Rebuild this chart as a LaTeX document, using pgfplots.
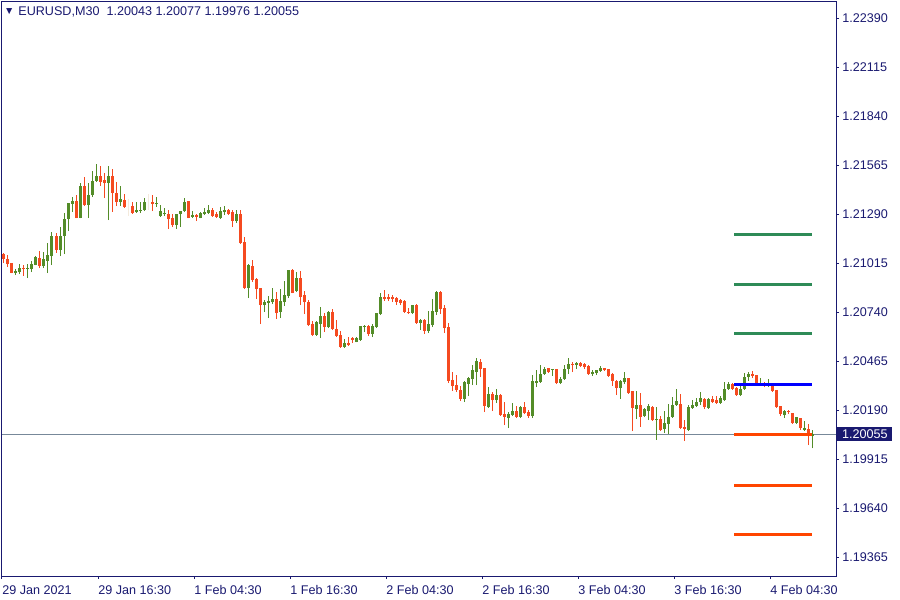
\documentclass[border=0pt]{standalone}
\usepackage{pgfplots}
\pgfplotsset{compat=1.18}
\usepackage{pgfplotstable}
\usepackage{fontspec}
\setmainfont{Liberation Sans}

\definecolor{navy}{RGB}{25,25,112}
\definecolor{upc}{RGB}{83,140,40}
\definecolor{dnc}{RGB}{245,74,32}
\definecolor{bidc}{RGB}{119,136,153}
\definecolor{lvgreen}{RGB}{46,139,87}
\definecolor{lvorange}{RGB}{255,69,0}
\definecolor{dojic}{RGB}{244,234,220}

% EURUSD M30 candles: bar index, open, high, low, close
\pgfplotstableread{
i o h l c
3 1.20959 1.20982 1.20948 1.20971
4 1.20965 1.21010 1.20954 1.20987
6 1.20982 1.21010 1.20931 1.20987
7 1.20982 1.21027 1.20965 1.21010
8 1.21004 1.21055 1.21002 1.21049
10 1.20999 1.21077 1.20987 1.21038
11 1.21027 1.21128 1.20959 1.21060
12 1.21055 1.21189 1.21004 1.21167
14 1.21089 1.21217 1.21055 1.21167
15 1.21167 1.21296 1.21066 1.21262
16 1.21262 1.21354 1.21195 1.21352
17 1.21347 1.21386 1.21302 1.21363
19 1.21268 1.21464 1.21266 1.21448
21 1.21341 1.21464 1.21268 1.21397
22 1.21397 1.21532 1.21386 1.21476
23 1.21476 1.21571 1.21470 1.21504
26 1.21464 1.21560 1.21257 1.21504
29 1.21358 1.21448 1.21335 1.21375
33 1.21302 1.21358 1.21299 1.21313
34 1.21307 1.21358 1.21296 1.21312
35 1.21313 1.21380 1.21307 1.21358
38 1.21347 1.21386 1.21330 1.21352
39 1.21279 1.21341 1.21274 1.21307
40 1.21290 1.21324 1.21279 1.21296
43 1.21229 1.21292 1.21206 1.21290
44 1.21290 1.21309 1.21217 1.21307
45 1.21307 1.21380 1.21302 1.21358
47 1.21274 1.21307 1.21268 1.21285
49 1.21268 1.21302 1.21266 1.21296
50 1.21290 1.21324 1.21285 1.21302
51 1.21296 1.21341 1.21290 1.21313
54 1.21268 1.21330 1.21262 1.21307
55 1.21302 1.21335 1.21285 1.21313
58 1.21251 1.21313 1.21240 1.21290
61 1.20875 1.21010 1.20819 1.21004
65 1.20780 1.20808 1.20741 1.20797
66 1.20791 1.20830 1.20707 1.20802
67 1.20797 1.20875 1.20785 1.20813
69 1.20741 1.20870 1.20707 1.20802
70 1.20797 1.20915 1.20774 1.20836
71 1.20830 1.20979 1.20819 1.20976
73 1.20858 1.20965 1.20853 1.20931
78 1.20612 1.20688 1.20609 1.20685
79 1.20673 1.20769 1.20595 1.20718
81 1.20656 1.20744 1.20651 1.20741
85 1.20544 1.20589 1.20539 1.20567
88 1.20572 1.20598 1.20570 1.20595
89 1.20584 1.20664 1.20581 1.20662
90 1.20656 1.20668 1.20628 1.20662
92 1.20617 1.20673 1.20600 1.20662
93 1.20656 1.20738 1.20651 1.20735
94 1.20729 1.20847 1.20724 1.20825
102 1.20735 1.20783 1.20729 1.20780
104 1.20679 1.20701 1.20640 1.20696
106 1.20634 1.20746 1.20623 1.20673
107 1.20668 1.20813 1.20656 1.20746
108 1.20741 1.20858 1.20724 1.20853
115 1.20253 1.20354 1.20236 1.20348
116 1.20337 1.20376 1.20269 1.20370
117 1.20365 1.20443 1.20331 1.20415
118 1.20404 1.20483 1.20331 1.20466
121 1.20208 1.20320 1.20205 1.20281
123 1.20247 1.20309 1.20230 1.20275
126 1.20146 1.20180 1.20090 1.20168
127 1.20163 1.20230 1.20157 1.20185
129 1.20152 1.20213 1.20146 1.20208
132 1.20157 1.20387 1.20146 1.20354
133 1.20342 1.20415 1.20320 1.20354
134 1.20348 1.20443 1.20345 1.20393
135 1.20393 1.20432 1.20390 1.20421
137 1.20415 1.20424 1.20382 1.20421
139 1.20342 1.20376 1.20337 1.20365
140 1.20365 1.20443 1.20362 1.20421
141 1.20421 1.20483 1.20393 1.20449
143 1.20443 1.20460 1.20421 1.20454
147 1.20393 1.20415 1.20382 1.20404
148 1.20398 1.20418 1.20387 1.20415
149 1.20410 1.20438 1.20407 1.20426
154 1.20314 1.20359 1.20253 1.20354
155 1.20348 1.20404 1.20337 1.20370
158 1.20196 1.20297 1.20140 1.20219
160 1.20157 1.20202 1.20150 1.20196
161 1.20185 1.20225 1.20135 1.20213
163 1.20135 1.20208 1.20023 1.20140
165 1.20084 1.20185 1.20062 1.20118
166 1.20112 1.20225 1.20056 1.20152
167 1.20152 1.20264 1.20149 1.20219
168 1.20219 1.20309 1.20216 1.20241
171 1.20079 1.20219 1.20076 1.20208
172 1.20202 1.20247 1.20199 1.20219
173 1.20213 1.20258 1.20208 1.20236
174 1.20236 1.20292 1.20219 1.20258
176 1.20202 1.20256 1.20199 1.20253
179 1.20230 1.20269 1.20225 1.20258
180 1.20247 1.20348 1.20244 1.20309
181 1.20309 1.20348 1.20306 1.20337
184 1.20275 1.20326 1.20269 1.20309
185 1.20309 1.20398 1.20306 1.20376
186 1.20376 1.20404 1.20354 1.20393
189 1.20331 1.20370 1.20326 1.20342
191 1.20326 1.20365 1.20320 1.20342
195 1.20163 1.20191 1.20146 1.20185
198 1.20118 1.20154 1.20112 1.20152
200 1.20079 1.20129 1.20073 1.20090
202 1.20043 1.20077 1.19976 1.20055
}\candlesup

\pgfplotstableread{
i o h l c
0 1.21066 1.21072 1.21015 1.21038
1 1.21038 1.21060 1.20993 1.21010
2 1.21015 1.21018 1.20957 1.20959
5 1.20987 1.21004 1.20943 1.20982
9 1.21044 1.21083 1.20987 1.20999
13 1.21167 1.21184 1.21072 1.21089
18 1.21363 1.21397 1.21266 1.21268
20 1.21448 1.21498 1.21335 1.21341
24 1.21504 1.21560 1.21448 1.21470
25 1.21481 1.21520 1.21380 1.21464
27 1.21504 1.21543 1.21302 1.21408
28 1.21408 1.21470 1.21335 1.21358
30 1.21369 1.21403 1.21327 1.21330
32 1.21335 1.21358 1.21293 1.21296
37 1.21358 1.21397 1.21307 1.21347
41 1.21290 1.21313 1.21206 1.21262
42 1.21268 1.21290 1.21217 1.21229
46 1.21363 1.21365 1.21266 1.21268
48 1.21285 1.21290 1.21251 1.21274
52 1.21313 1.21324 1.21274 1.21279
53 1.21290 1.21302 1.21271 1.21274
56 1.21313 1.21316 1.21285 1.21290
57 1.21302 1.21313 1.21217 1.21251
59 1.21290 1.21313 1.21125 1.21128
60 1.21133 1.21161 1.20870 1.20875
62 1.20999 1.21032 1.20909 1.20920
63 1.20926 1.20931 1.20813 1.20870
64 1.20875 1.20878 1.20673 1.20780
68 1.20813 1.20853 1.20701 1.20735
72 1.20976 1.20982 1.20845 1.20847
74 1.20931 1.20971 1.20780 1.20825
75 1.20836 1.20858 1.20729 1.20797
76 1.20797 1.20808 1.20662 1.20668
77 1.20673 1.20690 1.20606 1.20612
80 1.20718 1.20735 1.20628 1.20656
82 1.20741 1.20757 1.20640 1.20645
83 1.20645 1.20696 1.20600 1.20606
84 1.20612 1.20634 1.20541 1.20544
86 1.20567 1.20600 1.20553 1.20556
87 1.20595 1.20600 1.20567 1.20584
91 1.20662 1.20668 1.20606 1.20617
95 1.20825 1.20864 1.20802 1.20813
96 1.20825 1.20842 1.20802 1.20813
97 1.20825 1.20836 1.20797 1.20813
98 1.20819 1.20825 1.20780 1.20797
99 1.20808 1.20813 1.20780 1.20791
100 1.20802 1.20808 1.20735 1.20741
101 1.20741 1.20763 1.20729 1.20735
103 1.20780 1.20785 1.20676 1.20679
105 1.20696 1.20699 1.20617 1.20634
109 1.20853 1.20856 1.20729 1.20757
110 1.20763 1.20780 1.20623 1.20651
111 1.20656 1.20679 1.20342 1.20354
112 1.20359 1.20404 1.20297 1.20326
113 1.20331 1.20387 1.20292 1.20303
114 1.20303 1.20326 1.20241 1.20253
119 1.20460 1.20477 1.20376 1.20421
120 1.20426 1.20429 1.20180 1.20213
122 1.20281 1.20292 1.20185 1.20247
124 1.20275 1.20281 1.20160 1.20163
125 1.20168 1.20236 1.20107 1.20152
128 1.20185 1.20213 1.20146 1.20152
130 1.20208 1.20236 1.20168 1.20174
131 1.20180 1.20191 1.20146 1.20157
136 1.20426 1.20429 1.20398 1.20404
138 1.20421 1.20424 1.20337 1.20342
142 1.20449 1.20460 1.20404 1.20443
144 1.20454 1.20460 1.20432 1.20438
145 1.20449 1.20454 1.20421 1.20432
146 1.20438 1.20441 1.20390 1.20393
150 1.20426 1.20429 1.20410 1.20415
151 1.20421 1.20424 1.20379 1.20382
152 1.20393 1.20398 1.20326 1.20354
153 1.20354 1.20359 1.20275 1.20314
156 1.20370 1.20373 1.20283 1.20286
157 1.20297 1.20300 1.20073 1.20202
159 1.20219 1.20286 1.20096 1.20152
162 1.20208 1.20211 1.20132 1.20135
164 1.20140 1.20157 1.20073 1.20079
169 1.20225 1.20281 1.20084 1.20090
170 1.20096 1.20135 1.20017 1.20084
175 1.20253 1.20258 1.20196 1.20208
177 1.20253 1.20269 1.20233 1.20236
178 1.20247 1.20269 1.20227 1.20230
182 1.20337 1.20342 1.20306 1.20309
183 1.20314 1.20320 1.20272 1.20275
187 1.20393 1.20410 1.20370 1.20382
188 1.20387 1.20390 1.20326 1.20331
190 1.20342 1.20348 1.20320 1.20331
192 1.20337 1.20340 1.20292 1.20297
193 1.20303 1.20306 1.20205 1.20208
194 1.20213 1.20216 1.20157 1.20168
196 1.20185 1.20191 1.20168 1.20180
197 1.20174 1.20177 1.20115 1.20118
199 1.20146 1.20149 1.20079 1.20090
201 1.20084 1.20112 1.19994 1.20045
}\candlesdn

\pgfplotstableread{
i o h l c
31 1.21330 1.21375 1.21279 1.21330
36 1.21358 1.21403 1.21313 1.21358
}\candlesdoji

\begin{document}
\begin{tikzpicture}
\path[use as bounding box] (0,0) rectangle (450pt,300pt);
\begin{axis}[
  at={(1pt,12pt)}, anchor=south west,
  scale only axis, width=417pt, height=287pt,
  xmin=-0.5, xmax=208, ymin=1.19260, ymax=1.22480,
  clip=false,
  axis line style={navy, line width=0.5pt},
  tick style={navy, line width=0.5pt},
  tick align=outside,
  major tick length=1.5pt,
  xtick pos=bottom, ytick pos=right, yticklabel pos=right,
  xtick={-0.5,23.5,47.5,71.5,95.5,119.5,143.5,167.5,191.5},
  xticklabels={29 Jan 2021,29 Jan 16:30,1 Feb 04:30,1 Feb 16:30,2 Feb 04:30,2 Feb 16:30,3 Feb 04:30,3 Feb 16:30,4 Feb 04:30},
  ytick={1.19365,1.19640,1.19915,1.20190,1.20465,1.20740,1.21015,1.21290,1.21565,1.21840,1.22115,1.22390},
  yticklabels={1.19365,1.19640,1.19915,1.20190,1.20465,1.20740,1.21015,1.21290,1.21565,1.21840,1.22115,1.22390},
  xticklabel style={anchor=north west, inner sep=0pt, font=\fontsize{6.3}{7}\selectfont, text=navy, yshift=-3pt},
  yticklabel style={anchor=west, inner sep=0pt, font=\fontsize{6.3}{7}\selectfont, text=navy, xshift=1.5pt},
]
% bid line
\addplot[bidc, line width=0.5pt, forget plot] coordinates {(-0.5,1.20055) (208,1.20055)};

% candles: wick from low to high, body from open to close
\addplot[upc, line width=0.5pt, -, forget plot, quiver={u=0, v=\thisrow{h}-\thisrow{l}}] table[x=i, y=l] {\candlesup};
\addplot[upc, line width=1.5pt, -, forget plot, quiver={u=0, v=\thisrow{c}-\thisrow{o}}] table[x=i, y=o] {\candlesup};
\addplot[dnc, line width=0.5pt, -, forget plot, quiver={u=0, v=\thisrow{h}-\thisrow{l}}] table[x=i, y=l] {\candlesdn};
\addplot[dnc, line width=1.5pt, -, forget plot, quiver={u=0, v=\thisrow{o}-\thisrow{c}}] table[x=i, y=c] {\candlesdn};
\addplot[dojic, line width=0.5pt, -, forget plot, quiver={u=0, v=\thisrow{h}-\thisrow{l}}] table[x=i, y=l] {\candlesdoji};

% horizontal levels
\addplot[lvgreen, line width=1.5pt, forget plot] coordinates {(182.6,1.21173) (202.1,1.21173)};
\addplot[lvgreen, line width=1.5pt, forget plot] coordinates {(182.6,1.20898) (202.1,1.20898)};
\addplot[lvgreen, line width=1.5pt, forget plot] coordinates {(182.6,1.20620) (202.1,1.20620)};
\addplot[blue, line width=1.5pt, forget plot] coordinates {(182.6,1.20337) (202.1,1.20337)};
\addplot[lvorange, line width=1.5pt, forget plot] coordinates {(182.6,1.20055) (202.1,1.20055)};
\addplot[lvorange, line width=1.5pt, forget plot] coordinates {(182.6,1.19770) (202.1,1.19770)};
\addplot[lvorange, line width=1.5pt, forget plot] coordinates {(182.6,1.19495) (202.1,1.19495)};

% header and price box
\node[anchor=center, inner sep=0pt, text=navy, font=\fontsize{5.2}{5.2}\selectfont] at (rel axis cs:0,1) [xshift=3.6pt, yshift=-5pt] {▼};
\node[anchor=west, inner sep=0pt, text=navy, font=\fontsize{6.3}{7}\selectfont] at (rel axis cs:0,1) [xshift=8pt, yshift=-5pt] {EURUSD,M30\ \ 1.20043 1.20077 1.19976 1.20055};
\node[anchor=west, fill=navy, text=white, inner sep=0pt, minimum width=27.5pt, minimum height=7pt, font=\fontsize{6.3}{7}\selectfont] at (axis cs:208,1.20055) [xshift=0.5pt] {1.20055};
\end{axis}
\end{tikzpicture}
\end{document}
